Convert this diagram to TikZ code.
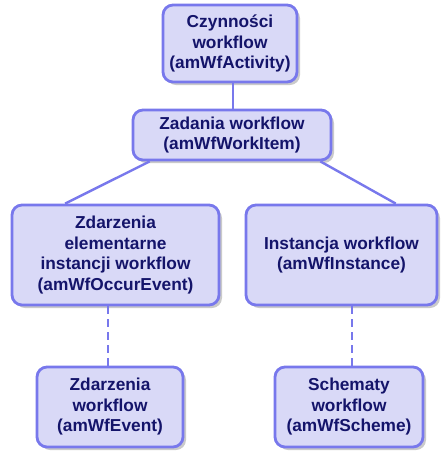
\documentclass[tikz,border=0pt]{standalone}
\usepackage{fontspec}
\setmainfont{Liberation Sans}
\usetikzlibrary{shadows,calc}
\definecolor{boxfill}{HTML}{D9D9F7}
\definecolor{boxline}{HTML}{7878EC}
\definecolor{boxtext}{HTML}{14146A}
\tikzset{
  wfbox/.style={draw=boxline, line width=2.8pt, fill=boxfill, rounded corners=10pt,
    align=center, text=boxtext, font=\bfseries\fontsize{17.3}{20.5}\selectfont,
    inner sep=0pt,
    drop shadow={shadow xshift=3pt, shadow yshift=-3pt, fill=black!35, opacity=0.6}},
  wfline/.style={draw=boxline, line width=2.4pt},
  wfdash/.style={draw=boxline, line width=2.4pt, dash pattern=on 8pt off 5pt},
}
\begin{document}
\begin{tikzpicture}[x=1pt,y=-1pt]
\useasboundingbox (0,0) rectangle (445,451);
\node[wfbox, minimum width=134pt, minimum height=77pt] (A) at (230,43.5) {Czynności\\workflow\\(amWfActivity)};
\node[wfbox, minimum width=198pt, minimum height=50pt] (B) at (232,135) {Zadania workflow\\(amWfWorkItem)};
\node[wfbox, minimum width=207pt, minimum height=100pt] (C) at (115.5,255) {Zdarzenia\\elementarne\\instancji workflow\\(amWfOccurEvent)};
\node[wfbox, minimum width=191pt, minimum height=100pt] (D) at (341.5,255) {Instancja workflow\\(amWfInstance)};
\node[wfbox, minimum width=146pt, minimum height=80pt] (E) at (110,407) {Zdarzenia\\workflow\\(amWfEvent)};
\node[wfbox, minimum width=148pt, minimum height=80pt] (F) at (349,407) {Schematy\\workflow\\(amWfScheme)};
\draw[wfline] (A.south -| 233,0) -- (B.north -| 233,0);
\draw[wfline] ($(B.south west)!0.09!(B.south east)$) -- ($(C.north west)!0.26!(C.north east)$);
\draw[wfline] ($(B.south west)!0.94!(B.south east)$) -- ($(D.north west)!0.78!(D.north east)$);
\draw[wfdash] (C.south -| 108,0) -- (E.north -| 108,0);
\draw[wfdash] (D.south -| 352,0) -- (F.north -| 352,0);
\end{tikzpicture}
\end{document}
